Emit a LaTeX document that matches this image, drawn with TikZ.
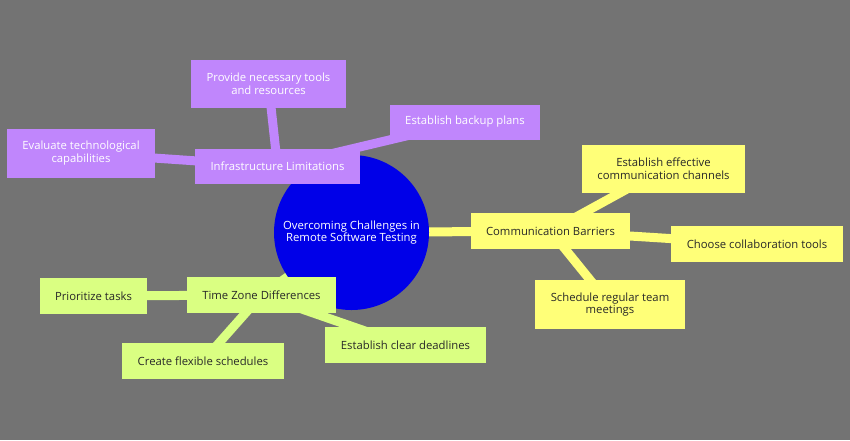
\documentclass[tikz,border=0pt]{standalone}
\usepackage{fontspec}
\setmainfont{Open Sans}

\definecolor{bggray}{RGB}{115,115,115}
\definecolor{infrapurple}{RGB}{192,134,252}
\definecolor{commyellow}{RGB}{255,255,120}
\definecolor{timegreen}{RGB}{218,255,130}
\definecolor{coreblue}{RGB}{0,0,232}
\definecolor{darktext}{RGB}{40,40,40}

\pgfdeclarelayer{links}
\pgfsetlayers{links,main}

\tikzset{
    leaf/.style={rectangle, inner sep=0pt, align=center,
        font=\fontsize{11.3}{12.7}\selectfont},
    purplebox/.style={leaf, fill=infrapurple, text=white},
    yellowbox/.style={leaf, fill=commyellow, text=darktext},
    greenbox/.style={leaf, fill=timegreen, text=darktext},
    link/.style={line width=9pt}
}

\begin{document}
\begin{tikzpicture}[x=1pt, y=-1pt]
    \useasboundingbox (0,0) rectangle (850,440);

    % Noyau central
    \node[circle, fill=coreblue, text=white, align=center, inner sep=0pt,
        minimum size=155, font=\fontsize{11.3}{12.7}\selectfont] (core) at (351.5,232.5)
        {Overcoming Challenges in\\Remote Software Testing};

    % Branche infrastructure
    \node[purplebox, minimum width=165, minimum height=35] (infra) at (277.5,166.5) {Infrastructure Limitations};
    \node[purplebox, minimum width=155, minimum height=48] (tools) at (268.5,84) {Provide necessary tools\\and resources};
    \node[purplebox, minimum width=150, minimum height=35] (backup) at (465,122) {Establish backup plans};
    \node[purplebox, minimum width=148, minimum height=49] (evaltech) at (81,153) {Evaluate technological\\capabilities};

    % Branche communication
    \node[yellowbox, minimum width=159, minimum height=36] (comm) at (550.5,231) {Communication Barriers};
    \node[yellowbox, minimum width=163, minimum height=48] (channels) at (663.5,169) {Establish effective\\communication channels};
    \node[yellowbox, minimum width=172, minimum height=36] (collab) at (757,244) {Choose collaboration tools};
    \node[yellowbox, minimum width=150, minimum height=49] (meetings) at (610,304.5) {Schedule regular team\\meetings};

    % Branche fuseaux horaires
    \node[greenbox, minimum width=149, minimum height=36] (tzone) at (261.5,295) {Time Zone Differences};
    \node[greenbox, minimum width=107, minimum height=36] (prio) at (93.5,296) {Prioritize tasks};
    \node[greenbox, minimum width=162, minimum height=36] (flex) at (203,361) {Create flexible schedules};
    \node[greenbox, minimum width=161, minimum height=36] (deadlines) at (405.5,345) {Establish clear deadlines};

    % Fond et liens, sous les noeuds
    \begin{pgfonlayer}{links}
        \fill[bggray] (0,0) rectangle (850,440);

        \draw[link, infrapurple] (core.center) -- (infra.center);
        \draw[link, infrapurple] (infra.center) -- (tools.center);
        \draw[link, infrapurple] (infra.center) -- (backup.center);
        \draw[link, infrapurple] (infra.center) -- (evaltech.center);

        \draw[link, commyellow] (core.center) -- (comm.center);
        \draw[link, commyellow] (comm.center) -- (channels.center);
        \draw[link, commyellow] (comm.center) -- (collab.center);
        \draw[link, commyellow] (comm.center) -- (meetings.center);

        \draw[link, timegreen] (core.center) -- (tzone.center);
        \draw[link, timegreen] (tzone.center) -- (prio.center);
        \draw[link, timegreen] (tzone.center) -- (flex.center);
        \draw[link, timegreen] (tzone.center) -- (deadlines.center);
    \end{pgfonlayer}
\end{tikzpicture}
\end{document}
